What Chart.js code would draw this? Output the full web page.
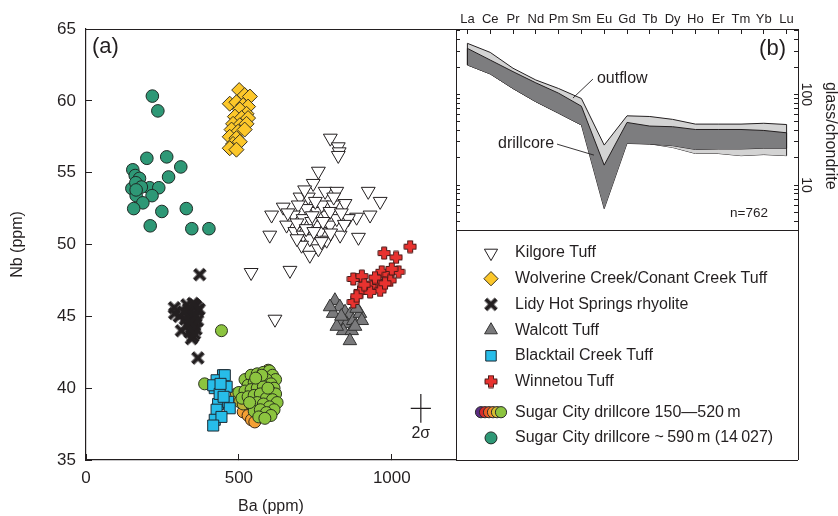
<!DOCTYPE html>
<html>
<head>
<meta charset="utf-8">
<script src="https://cdn.jsdelivr.net/npm/chart.js@4.4.0/dist/chart.umd.min.js"></script>
<style>
  html, body { margin: 0; padding: 0; background: #fff; }
  #wrap { position: relative; width: 838px; height: 516px; }
  #wrap canvas { position: absolute; left: 0; top: 0; }
</style>
</head>
<body>
<div id="wrap">
  <canvas id="scatter" width="838" height="516"></canvas>
  <canvas id="ree" width="838" height="516"></canvas>
</div>
<script>
// ---- panel (a): Ba vs Nb, [Ba ppm, Nb ppm] ----
const baTicks = [0, 500, 1000];
const nbTicks = [35, 40, 45, 50, 55, 60, 65];

const kilgore = [[799,57.4],[825,56.8],[828,56.45],[825,56.2],[760,55.1],[743,54.25],[923,53.7],[962,53.0],
  [782,53.7],[820,53.7],[700,53.3],[727,53.3],[645,52.6],[847,52.85],[607,52.05],[929,52.05],[885,51.9],
  [858,51.8],[601,50.65],[891,50.5],[755,51.35],[656,51.35],[683,50.9],[710,50.65],[732,50.4],[765,50.9],
  [798,51.35],[820,51.8],[787,52.05],[755,52.3],[722,52.5],[694,52.75],[678,52.05],[710,51.8],[738,51.6],
  [771,52.75],[809,52.75],[798,52.3],[705,49.95],[732,49.25],[760,49.7],[787,50.3],[831,50.65],[540,48.05],
  [667,48.2],[618,44.8],[690,51.5],[720,51.1],[745,50.9],[775,51.6],[800,50.8],[835,52.2],[660,52.2],
  [690,50.4],[750,53.0],[810,53.3],[740,52.0],[770,50.2],[715,53.8],[845,51.4]];
const wolverine = [[501,60.75],[519,60.4],[536,60.3],[470,59.8],[492,59.9],[514,59.7],[530,59.6],[503,59.4],
  [525,59.1],[487,58.9],[509,58.8],[530,58.8],[481,58.4],[503,58.3],[525,58.4],[476,58.0],[497,57.85],
  [519,58.0],[470,57.5],[492,57.4],[481,57.0],[503,57.15],[470,56.7],[492,56.6]];
const lidy = [[289,45.6],[290,45.2],[305,45.0],[312,44.0],[330,45.8],[335,45.5],[340,45.3],[345,45.0],
  [350,44.7],[355,44.4],[345,44.2],[340,43.9],[350,43.6],[345,43.45],[360,45.7],[365,45.4],[360,45.0],
  [365,44.7],[355,45.8],[370,45.5],[360,44.1],[330,44.4],[325,44.8],[320,45.3],[372,47.9],[366,42.1],
  [350,45.9],[340,44.6],[355,43.8]];
const walcott = [[814,46.1],[830,45.66],[808,45.2],[847,45.3],[863,45.1],[830,44.6],[852,44.5],[874,44.7],
  [896,45.2],[902,44.7],[841,44.0],[869,44.0],[863,43.3],[820,44.3],[885,45.55],[798,45.66],[835,45.0],[880,44.3]];
const blacktail = [[448,40.9],[427,40.55],[460,40.1],[421,40.0],[432,38.9],[465,39.05],[427,38.5],[470,38.6],
  [421,37.8],[443,38.0],[454,40.9],[416,40.2],[416,37.4],[437,39.6],[450,39.4],[440,40.3]];
const winnetou = [[1060,49.85],[975,49.4],[1014,49.1],[874,47.6],[902,47.8],[967,48.1],[989,47.9],[1022,48.1],
  [995,47.5],[951,47.4],[929,47.05],[962,46.8],[896,46.7],[874,46.0],[885,46.4],[929,46.7],[978,47.3],
  [910,47.2],[945,47.7],[1000,48.3]];
// Sugar City drillcore 150-520 m, split by depth colour
const scGreen = [[520,40.6],[540,40.9],[560,41.0],[580,41.1],[600,41.2],[610,40.9],[620,40.6],[530,40.2],
  [550,40.4],[570,40.5],[590,40.6],[605,40.3],[615,40.0],[500,39.7],[520,39.8],[540,39.9],[560,40.0],
  [580,40.1],[600,39.8],[620,39.6],[510,39.3],[530,39.4],[550,39.5],[570,39.6],[590,39.3],[610,39.2],
  [625,39.0],[540,38.9],[560,39.0],[580,38.9],[600,38.7],[615,38.5],[550,38.4],[570,38.5],[590,38.3],
  [605,38.1],[565,38.0],[585,37.9],[575,40.9],[595,40.0],[535,39.0],[555,40.7],[388,40.3],[443,44.0]];
const scOlive = [[492,39.6],[503,39.05],[514,38.9],[596,41.25]];
const scOrange = [[514,38.35],[530,38.1],[541,37.8],[552,37.65]];
// Sugar City drillcore ~590 m (14 027)
const sc590 = [[217,60.33],[235,59.3],[199,56.0],[264,56.1],[310,55.4],[153,55.2],[161,54.8],[175,54.6],
  [270,54.7],[150,53.9],[164,53.4],[208,53.95],[238,53.95],[216,53.4],[186,52.9],[156,52.5],[248,52.3],
  [328,52.5],[210,51.3],[346,51.1],[402,51.1],[163,54.3],[181,54.0],[164,53.8]];
// 2 sigma analytical uncertainty: centre and half-lengths
const sigmaCentre = [1095, 38.6];
const sigmaHalf = [33, 1.0];

// ---- panel (b): chondrite-normalised REE envelopes ----
const reeLabels = ['La','Ce','Pr','Nd','Pm','Sm','Eu','Gd','Tb','Dy','Ho','Er','Tm','Yb','Lu'];
const outflowHigh = [365, 290, 194, 144, 116, 90, 27.6, 58, 57, 53, 47, 47, 47, 48, 46.5];
const outflowLow  = [211, 168, 116, 83, 62, 46, 15, 29, 28.5, 26, 22.3, 22.3, 21.1, 21.7, 21.1];
const drillHigh   = [321, 239, 178, 134, 103, 74, 16.6, 49, 44.7, 44, 41, 41, 41, 40, 37.7];
const drillLow    = [211, 168, 116, 83, 62, 46, 5.5, 28.8, 28.3, 27.2, 24.7, 25, 25, 25.5, 25.5];
const reeTicks = [4, 5, 6, 7, 8, 9, 10, 20, 30, 40, 50, 60, 70, 80, 90, 100, 200, 300, 400, 500];
const reeLabelled = [10, 100];
const sampleCount = 762;

const ink = '#231f20';
const FONT = '"Liberation Sans", Arial, Helvetica, sans-serif';
Chart.defaults.font.family = FONT;
Chart.defaults.color = ink;

const depthColors = ['#5b2c83', '#d92b2b', '#ee5b25', '#f3902e', '#d6bf30', '#8cc43f'];

// thick plus / X markers drawn once onto small canvases
function plusImage(size, arm, fill, stroke) {
  const c = document.createElement('canvas');
  c.width = c.height = size;
  const g = c.getContext('2d');
  const h = size / 2, a = arm / 2, e = h - 1;
  g.beginPath();
  g.moveTo(h - a, h - e); g.lineTo(h + a, h - e); g.lineTo(h + a, h - a); g.lineTo(h + e, h - a);
  g.lineTo(h + e, h + a); g.lineTo(h + a, h + a); g.lineTo(h + a, h + e); g.lineTo(h - a, h + e);
  g.lineTo(h - a, h + a); g.lineTo(h - e, h + a); g.lineTo(h - e, h - a); g.lineTo(h - a, h - a);
  g.closePath();
  g.fillStyle = fill; g.fill();
  if (stroke) { g.strokeStyle = stroke; g.lineWidth = 1; g.stroke(); }
  return c;
}
const redPlus = plusImage(14, 5, '#e8322f', '#4a1a18');
const blackX = plusImage(17, 4.2, ink, null);

const pts = arr => arr.map(([x, y]) => ({ x, y }));

const scatterSets = [
  { label: 'Winnetou Tuff', data: pts(winnetou), pointStyle: redPlus, order: 1 },
  { label: 'Blacktail Creek Tuff', data: pts(blacktail), pointStyle: 'rect', pointRadius: 7.8,
    backgroundColor: '#27bde9', borderColor: '#1d2a33', order: 2 },
  { label: 'Lidy Hot Springs rhyolite', data: pts(lidy), pointStyle: blackX, rotation: 45, order: 3 },
  { label: 'Wolverine Creek/Conant Creek Tuff', data: pts(wolverine), pointStyle: 'rectRot', pointRadius: 7.5,
    backgroundColor: '#fcc72a', borderColor: '#3a3320', order: 4 },
  { label: 'Walcott Tuff', data: pts(walcott), pointStyle: 'triangle', pointRadius: 7.8,
    backgroundColor: '#7a7a7c', borderColor: '#333', order: 5 },
  { label: 'Kilgore Tuff', data: pts(kilgore), pointStyle: 'triangle', rotation: 180, pointRadius: 8,
    backgroundColor: '#fff', borderColor: ink, order: 6 },
  { label: 'Sugar City drillcore ~590 m', data: pts(sc590), pointStyle: 'circle', pointRadius: 6.3,
    backgroundColor: '#2e9876', borderColor: '#1f2a25', order: 7 },
  { label: 'sc green', data: pts(scGreen), pointStyle: 'circle', pointRadius: 6,
    backgroundColor: '#8cc43f', borderColor: '#2b331d', order: 8 },
  { label: 'sc olive', data: pts(scOlive), pointStyle: 'circle', pointRadius: 6,
    backgroundColor: '#bcb23a', borderColor: '#2b331d', order: 9 },
  { label: 'sc orange', data: pts(scOrange), pointStyle: 'circle', pointRadius: 6,
    backgroundColor: '#f5a034', borderColor: '#3a2a1a', order: 10 }
].map(d => Object.assign({ borderWidth: 1, pointHoverRadius: d.pointRadius }, d));

const legendRows = [
  ['Kilgore Tuff', 'Kilgore Tuff'],
  ['Wolverine Creek/Conant Creek Tuff', 'Wolverine Creek/Conant Creek Tuff'],
  ['Lidy Hot Springs rhyolite', 'Lidy Hot Springs rhyolite'],
  ['Walcott Tuff', 'Walcott Tuff'],
  ['Blacktail Creek Tuff', 'Blacktail Creek Tuff'],
  ['Winnetou Tuff', 'Winnetou Tuff'],
  ['Sugar City drillcore 150\u2014520\u2009m', null],
  ['Sugar City drillcore ~\u2009590\u2009m (14\u2009027)', 'Sugar City drillcore ~590 m']
];

const frameRight = 798;
const legendTop = 230;

const panelA = {
  id: 'panelA',
  afterDraw(chart) {
    const { ctx, chartArea: a, scales: { x, y } } = chart;
    const helpers = Chart.helpers;
    ctx.save();
    // frame around both panels
    ctx.strokeStyle = ink;
    ctx.lineWidth = 1;
    ctx.beginPath();
    ctx.moveTo(a.left, a.top + 0.5); ctx.lineTo(frameRight, a.top + 0.5);
    ctx.moveTo(frameRight + 0.5, a.top); ctx.lineTo(frameRight + 0.5, a.bottom);
    ctx.moveTo(a.right + 0.5, a.top); ctx.lineTo(a.right + 0.5, a.bottom);
    ctx.moveTo(a.right, a.bottom + 0.5); ctx.lineTo(frameRight, a.bottom + 0.5);
    ctx.moveTo(a.right, legendTop + 0.5); ctx.lineTo(frameRight, legendTop + 0.5);
    ctx.stroke();

    // 2 sigma cross
    const cx = x.getPixelForValue(sigmaCentre[0]);
    const cy = y.getPixelForValue(sigmaCentre[1]);
    const x0 = x.getPixelForValue(sigmaCentre[0] - sigmaHalf[0]);
    const x1 = x.getPixelForValue(sigmaCentre[0] + sigmaHalf[0]);
    const y0 = y.getPixelForValue(sigmaCentre[1] + sigmaHalf[1]);
    const y1 = y.getPixelForValue(sigmaCentre[1] - sigmaHalf[1]);
    ctx.lineWidth = 1.2;
    ctx.beginPath();
    ctx.moveTo(x0, cy); ctx.lineTo(x1, cy);
    ctx.moveTo(cx, y0); ctx.lineTo(cx, y1);
    ctx.stroke();
    ctx.fillStyle = ink;
    ctx.font = '16px ' + FONT;
    ctx.textAlign = 'center';
    ctx.textBaseline = 'middle';
    ctx.fillText('2\u03c3', cx, y1 + 11);

    // panel tag
    ctx.font = '22px ' + FONT;
    ctx.textAlign = 'left';
    ctx.fillText('(a)', a.left + 6, a.top + 18);

    // legend box
    ctx.font = '16px ' + FONT;
    const mx = a.right + 35, tx = a.right + 59;
    legendRows.forEach(([text, dsLabel], i) => {
      const ry = legendTop + 23 + i * 25.7 + (i >= 6 ? 5 : 0);
      ctx.fillStyle = ink;
      ctx.fillText(text, tx, ry);
      if (dsLabel) {
        const ds = chart.data.datasets.find(d => d.label === dsLabel);
        ctx.fillStyle = ds.backgroundColor || ink;
        ctx.strokeStyle = ds.borderColor || ink;
        ctx.lineWidth = 1;
        helpers.drawPoint(ctx, {
          pointStyle: ds.pointStyle, rotation: ds.rotation || 0,
          radius: (ds.pointRadius || 6) * 0.95, borderWidth: 1
        }, mx, ry);
      } else {
        depthColors.forEach((c, k) => {
          ctx.fillStyle = c;
          ctx.strokeStyle = '#2b2b2b';
          helpers.drawPoint(ctx, { pointStyle: 'circle', radius: 5.6, borderWidth: 0.8 },
            mx - 10 + k * 4, ry);
        });
      }
    });
    ctx.restore();
  }
};

new Chart(document.getElementById('scatter'), {
  type: 'scatter',
  data: { datasets: scatterSets },
  options: {
    responsive: false,
    animation: false,
    devicePixelRatio: 1,
    layout: { padding: { left: 0, top: 29, right: 838 - 456, bottom: 0 } },
    plugins: { legend: { display: false }, tooltip: { enabled: false } },
    scales: {
      x: {
        type: 'linear', min: 0, max: 1210,
        afterBuildTicks: s => { s.ticks = baTicks.map(v => ({ value: v })); },
        afterFit: s => { s.height = 56; },
        grid: { drawOnChartArea: false, tickLength: -6, color: ink, tickColor: ink, lineWidth: 1 },
        border: { color: ink, width: 1.2 },
        ticks: { font: { size: 17 }, padding: 14, color: ink, maxRotation: 0, autoSkip: false,
          callback: v => String(v) },
        title: { display: true, text: 'Ba (ppm)', font: { size: 16 }, color: ink, padding: { top: 0, bottom: 0 } }
      },
      y: {
        type: 'linear', min: 35, max: 65,
        afterBuildTicks: s => { s.ticks = nbTicks.map(v => ({ value: v })); },
        afterFit: s => { s.width = 86; },
        grid: { drawOnChartArea: false, tickLength: -6, color: ink, tickColor: ink, lineWidth: 1 },
        border: { color: ink, width: 1.2 },
        ticks: { font: { size: 17 }, padding: 16, color: ink, autoSkip: false, callback: v => String(v) },
        title: { display: true, text: 'Nb (ppm)', font: { size: 16 }, color: ink, padding: { top: 8, bottom: 0 } }
      }
    }
  },
  plugins: [panelA]
});

// ---- panel (b) ----
const notes = [
  { text: 'outflow', align: 'left', at: [5.68, 151], to: [4.63, 91] },
  { text: 'drillcore', align: 'right', at: [3.8, 29], to: [5.55, 21.4] }
];
const bands = [[outflowHigh, outflowLow], [drillHigh, drillLow]];

const panelB = {
  id: 'panelB',
  afterDatasetsDraw(chart) {
    // close the envelopes at La and Lu
    const { ctx, scales: { x, y } } = chart;
    const last = reeLabels.length - 1;
    ctx.save();
    ctx.strokeStyle = ink;
    ctx.lineWidth = 1;
    bands.forEach(([hi, lo]) => {
      [0, last].forEach(i => {
        const px = x.getPixelForValue(i);
        ctx.beginPath();
        ctx.moveTo(px, y.getPixelForValue(hi[i]));
        ctx.lineTo(px, y.getPixelForValue(lo[i]));
        ctx.stroke();
      });
    });
    ctx.restore();
  },
  afterDraw(chart) {
    const { ctx, chartArea: a, scales: { x, y } } = chart;
    ctx.save();
    ctx.fillStyle = ink;
    ctx.strokeStyle = ink;
    ctx.textBaseline = 'middle';
    ctx.textAlign = 'center';

    // right-hand labels, rotated clockwise
    ctx.font = '14px ' + FONT;
    reeLabelled.forEach(v => {
      ctx.save();
      ctx.translate(a.right + 8, y.getPixelForValue(v));
      ctx.rotate(Math.PI / 2);
      ctx.fillText(String(v), 0, 0);
      ctx.restore();
    });
    ctx.font = '16px ' + FONT;
    ctx.save();
    ctx.translate(a.right + 32, y.getPixelForValue(35));
    ctx.rotate(Math.PI / 2);
    ctx.fillText('glass/chondrite', 0, 0);
    ctx.restore();

    ctx.font = '22px ' + FONT;
    ctx.textAlign = 'right';
    ctx.fillText('(b)', a.right - 12, a.top + 20);

    ctx.font = '13.5px ' + FONT;
    ctx.fillText('n=' + sampleCount, a.right - 30, a.bottom - 17);

    // envelope labels with leader lines
    ctx.font = '16px ' + FONT;
    ctx.lineWidth = 0.9;
    notes.forEach(n => {
      const px = x.getPixelForValue(n.at[0]);
      const py = y.getPixelForValue(n.at[1]);
      ctx.textAlign = n.align;
      ctx.fillText(n.text, px, py);
      const sx = n.align === 'left' ? px - 4 : px + 3;
      ctx.beginPath();
      ctx.moveTo(sx, py + 1);
      ctx.lineTo(x.getPixelForValue(n.to[0]), y.getPixelForValue(n.to[1]));
      ctx.stroke();
    });
    ctx.restore();
  }
};

const band = (data, fill, bg, order) => ({
  data, fill, backgroundColor: bg, borderColor: ink, borderWidth: 1,
  pointRadius: 0, tension: 0, order
});

const logAxis = (position, width) => ({
  type: 'logarithmic', position, min: 3.2, max: 525,
  afterBuildTicks: s => { s.ticks = reeTicks.map(v => ({ value: v })); },
  afterFit: s => { s.width = width; },
  ticks: { display: false },
  grid: { drawOnChartArea: false, tickLength: -4, color: ink, tickColor: ink, lineWidth: 1 },
  border: { color: ink, width: 1 }
});

new Chart(document.getElementById('ree'), {
  type: 'line',
  data: {
    labels: reeLabels,
    datasets: [
      band(drillHigh, '+1', '#7d7d7f', 0),
      band(drillLow, false, '#7d7d7f', 0),
      band(outflowHigh, '+1', '#d3d3d3', 1),
      band(outflowLow, false, '#d3d3d3', 1)
    ]
  },
  options: {
    responsive: false,
    animation: false,
    devicePixelRatio: 1,
    layout: { padding: { left: 456, top: 0, right: 0, bottom: 516 - legendTop } },
    plugins: { legend: { display: false }, tooltip: { enabled: false } },
    scales: {
      x: {
        type: 'category', position: 'top', offset: true,
        afterFit: s => { s.height = 29; },
        grid: { drawOnChartArea: false, offset: false, tickLength: -5, color: ink, tickColor: ink },
        border: { color: ink, width: 1 },
        ticks: { font: { size: 13 }, padding: 6.5, color: ink, maxRotation: 0, autoSkip: false }
      },
      y: logAxis('right', 40),
      yl: logAxis('left', 0)
    }
  },
  plugins: [panelB]
});
</script>
</body>
</html>
